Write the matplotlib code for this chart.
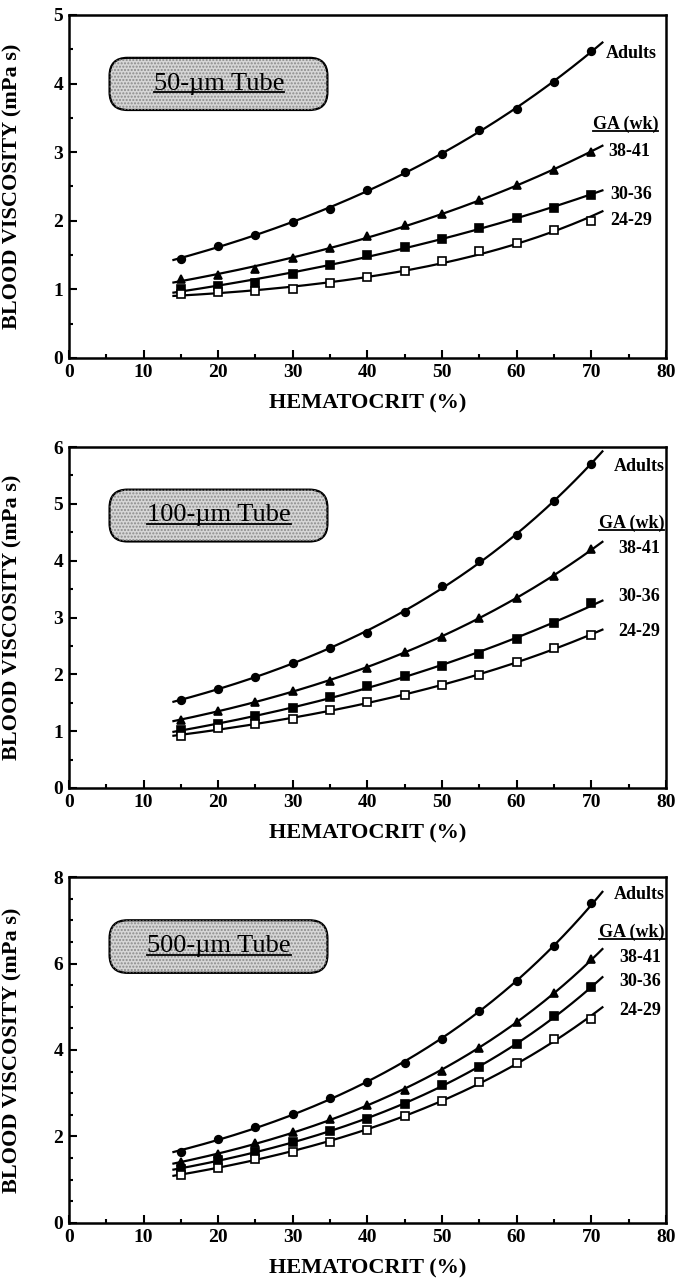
import numpy as np
import matplotlib
matplotlib.use("Agg")
import matplotlib.pyplot as plt
from matplotlib.patches import FancyBboxPatch

plt.rcParams['font.family'] = ['Liberation Serif', 'DejaVu Serif']

hematocrit = [15, 20, 25, 30, 35, 40, 45, 50, 55, 60, 65, 70]
groups = ["Adults", "38-41", "30-36", "24-29"]

# 50-um tube
tube50_adults = [1.45, 1.63, 1.80, 1.98, 2.17, 2.45, 2.71, 2.97, 3.32, 3.63, 4.02, 4.48]
tube50_3841 = [1.15, 1.21, 1.30, 1.46, 1.60, 1.78, 1.94, 2.10, 2.30, 2.52, 2.74, 3.00]
tube50_3036 = [1.00, 1.05, 1.10, 1.23, 1.36, 1.50, 1.62, 1.74, 1.90, 2.04, 2.18, 2.38]
tube50_2429 = [0.93, 0.96, 0.97, 1.00, 1.09, 1.18, 1.27, 1.41, 1.56, 1.68, 1.86, 2.00]

# 100-um tube
tube100_adults = [1.55, 1.74, 1.96, 2.20, 2.47, 2.73, 3.10, 3.55, 4.00, 4.45, 5.05, 5.70]
tube100_3841 = [1.20, 1.35, 1.52, 1.71, 1.89, 2.12, 2.40, 2.65, 3.00, 3.35, 3.73, 4.20]
tube100_3036 = [1.02, 1.12, 1.26, 1.41, 1.60, 1.80, 1.97, 2.15, 2.35, 2.63, 2.90, 3.25]
tube100_2429 = [0.92, 1.05, 1.13, 1.22, 1.37, 1.51, 1.63, 1.81, 1.98, 2.22, 2.46, 2.70]

# 500-um tube
tube500_adults = [1.65, 1.95, 2.22, 2.52, 2.88, 3.25, 3.70, 4.25, 4.90, 5.60, 6.40, 7.40]
tube500_3841 = [1.40, 1.60, 1.85, 2.10, 2.40, 2.72, 3.08, 3.52, 4.05, 4.65, 5.32, 6.10]
tube500_3036 = [1.25, 1.45, 1.65, 1.88, 2.13, 2.40, 2.75, 3.18, 3.60, 4.15, 4.78, 5.45]
tube500_2429 = [1.12, 1.28, 1.48, 1.65, 1.88, 2.15, 2.48, 2.83, 3.25, 3.70, 4.25, 4.72]

panels = [
    dict(title="50-\u00b5m Tube", ymax=5, ystep=1,
         series=[tube50_adults, tube50_3841, tube50_3036, tube50_2429],
         labels=[(72.0, 4.44), (72.3, 3.01), (72.5, 2.38), (72.5, 2.01)], ga=(70.2, 3.40),
         rect=[0.1016, 0.7201, 0.879, 0.2682]),
    dict(title="100-\u00b5m Tube", ymax=6, ystep=1,
         series=[tube100_adults, tube100_3841, tube100_3036, tube100_2429],
         labels=[(73.0, 5.65), (73.6, 4.22), (73.6, 3.37), (73.6, 2.75)], ga=(71.0, 4.65),
         rect=[0.1016, 0.3839, 0.879, 0.2666]),
    dict(title="500-\u00b5m Tube", ymax=8, ystep=2,
         series=[tube500_adults, tube500_3841, tube500_3036, tube500_2429],
         labels=[(73.0, 7.6), (73.7, 6.15), (73.7, 5.58), (73.7, 4.92)], ga=(71.1, 6.73),
         rect=[0.1016, 0.0438, 0.879, 0.2705]),
]

markers = [dict(marker='o', mfc='black'), dict(marker='^', mfc='black'),
           dict(marker='s', mfc='black'), dict(marker='s', mfc='white')]

fig = plt.figure(figsize=(6.79, 12.79), dpi=100)
underlined = []

for p in panels:
    ax = fig.add_axes(p["rect"])
    x = np.array(hematocrit)
    xfit = np.linspace(14, 71.5, 200)
    for vals, mk in zip(p["series"], markers):
        coef = np.polyfit(x, np.log(vals), 2)
        ax.plot(xfit, np.exp(np.polyval(coef, xfit)), color='black', lw=1.6, zorder=2)
        ax.plot(x, vals, linestyle='none', color='black', mec='black', ms=5.5, mew=1.2,
                zorder=3, **mk)

    ax.set_xlim(0, 80)
    ax.set_ylim(0, p["ymax"])
    ax.set_xticks(range(0, 81, 10))
    ax.set_xticks(range(0, 81, 5), minor=True)
    ax.set_yticks(range(0, p["ymax"] + 1, p["ystep"]))
    ax.set_yticks(np.arange(0, p["ymax"] + 0.01, 0.5), minor=True)
    ax.tick_params(which='both', direction='in', width=1.5, top=False, right=False)
    ax.tick_params(which='major', length=6, labelsize=14, pad=4)
    ax.tick_params(which='minor', length=3)
    for lab in ax.get_xticklabels() + ax.get_yticklabels():
        lab.set_fontweight('bold')
    for sp in ax.spines.values():
        sp.set_linewidth(1.8)

    ax.set_xlabel("HEMATOCRIT (%)", fontsize=16, fontweight='bold', labelpad=9)
    ax.set_ylabel("BLOOD VISCOSITY (mPa s)", fontsize=16, fontweight='bold')
    ax.yaxis.set_label_coords(-0.078, 0.5)

    for name, (lx, ly) in zip(groups, p["labels"]):
        ax.text(lx, ly, name, fontsize=13, fontweight='bold', va='center', ha='left')
    ga = ax.text(p["ga"][0], p["ga"][1], "GA (wk)", fontsize=13, fontweight='bold',
                 va='center', ha='left')
    underlined.append((ax, ga))

    # shaded rounded title box
    xy, bw, bh = (0.068, 0.723), 0.365, 0.152
    aspect = (p["rect"][3] * 12.79) / (p["rect"][2] * 6.79)
    style = "round,pad=0,rounding_size=0.03"
    box = FancyBboxPatch(xy, bw, bh, boxstyle=style, mutation_aspect=1 / aspect,
                         transform=ax.transAxes, fc='#d6d6d6', ec='black', lw=1.6, zorder=4)
    ax.add_patch(box)
    dots = FancyBboxPatch(xy, bw, bh, boxstyle=style, mutation_aspect=1 / aspect,
                          transform=ax.transAxes, fc='none', ec='#8a8a8a', lw=0,
                          hatch='.....', zorder=4)
    ax.add_patch(dots)
    t = ax.text(0.251, 0.80, p["title"], transform=ax.transAxes, fontsize=19,
                ha='center', va='center', zorder=5)
    underlined.append((ax, t))

fig.canvas.draw()
renderer = fig.canvas.get_renderer()
for ax, t in underlined:
    bb = t.get_window_extent(renderer)
    inv = ax.transAxes.inverted()
    (x0, y0), (x1, y1) = inv.transform([(bb.x0, bb.y0), (bb.x1, bb.y1)])
    yline = y0 + 0.12 * (y1 - y0)
    ax.plot([x0, x1], [yline, yline], transform=ax.transAxes, color='black',
            lw=1.3, zorder=6, clip_on=False)

fig.savefig("out.png", dpi=100)
